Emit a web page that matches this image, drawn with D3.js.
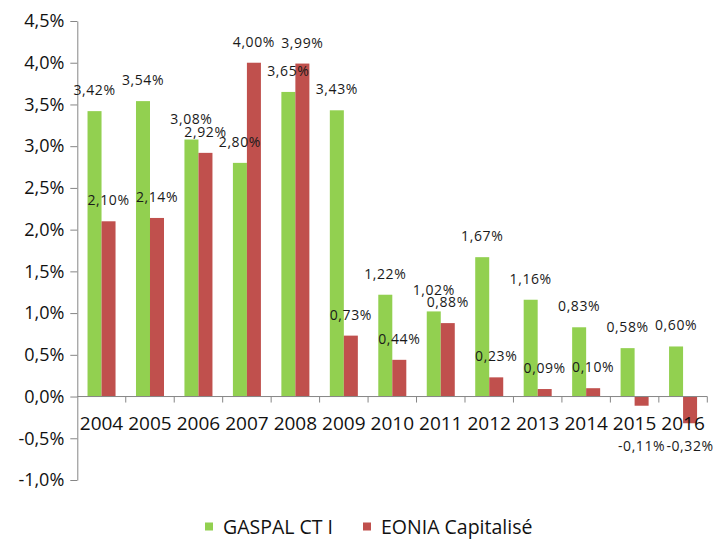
<!DOCTYPE html>
<html>
<head>
<meta charset="utf-8">
<script src="https://cdn.jsdelivr.net/npm/d3@7"></script>
<style>
  body { margin: 0; background: #fff; }
  svg { display: block; font-family: "Open Sans", sans-serif; }
</style>
</head>
<body>
<div id="chart"></div>
<script>
const years = ["2004", "2005", "2006", "2007", "2008", "2009", "2010", "2011", "2012", "2013", "2014", "2015", "2016"];
const gaspal = [3.42, 3.54, 3.08, 2.80, 3.65, 3.43, 1.22, 1.02, 1.67, 1.16, 0.83, 0.58, 0.60];
const eonia = [2.10, 2.14, 2.92, 4.00, 3.99, 0.73, 0.44, 0.88, 0.23, 0.09, 0.10, -0.11, -0.32];
const seriesNames = ["GASPAL CT I", "EONIA Capitalisé"];
const seriesColors = ["#92D050", "#C0504D"];
const yTicks = [-1.0, -0.5, 0, 0.5, 1.0, 1.5, 2.0, 2.5, 3.0, 3.5, 4.0, 4.5];

const W = 714, H = 541;
const svg = d3.select("#chart").append("svg")
    .attr("width", W)
    .attr("height", H);

const x = d3.scaleBand()
    .domain(years)
    .range([77.3, 707.3])
    .padding(0);

const x1 = d3.scaleBand()
    .domain(["g", "r"])
    .range([0, x.bandwidth()])
    .paddingInner(0)
    .paddingOuter(0.73);

const y = d3.scaleLinear()
    .domain([-1.0, 4.5])
    .range([480, 21]);

const fmtTick = v => d3.format(".1f")(v).replace(".", ",").replace("−", "-") + "%";
const fmtLabel = v => d3.format(".2f")(v).replace(".", ",").replace("−", "-") + "%";

// y axis
const yAxis = svg.append("g")
    .attr("transform", `translate(${x.range()[0]},0)`)
    .call(d3.axisLeft(y).tickValues(yTicks).tickFormat(fmtTick).tickSize(7).tickSizeOuter(0));
yAxis.select(".domain").attr("stroke", "#868686");
yAxis.selectAll(".tick line").attr("stroke", "#868686");
yAxis.selectAll(".tick text")
    .attr("x", -13)
    .attr("font-size", 18)
    .attr("fill", "#111")
    .attr("font-family", "Open Sans, sans-serif");

// bars
const flat = [];
years.forEach((yr, i) => {
    flat.push({ year: yr, key: "g", v: gaspal[i] });
    flat.push({ year: yr, key: "r", v: eonia[i] });
});

svg.append("g").selectAll("rect")
    .data(flat)
    .join("rect")
    .attr("x", d => x(d.year) + x1(d.key))
    .attr("y", d => Math.min(y(d.v), y(0)))
    .attr("width", x1.bandwidth())
    .attr("height", d => Math.abs(y(d.v) - y(0)))
    .attr("fill", d => d.key === "g" ? seriesColors[0] : seriesColors[1]);

// x axis at zero
const y0 = y(0);
const xg = svg.append("g");
xg.append("line")
    .attr("x1", x.range()[0]).attr("x2", x.range()[1])
    .attr("y1", y0).attr("y2", y0)
    .attr("stroke", "#868686");
const bounds = years.map(yr => x(yr)).concat([x.range()[1]]);
xg.selectAll("line.tk")
    .data(bounds.slice(1))
    .join("line")
    .attr("class", "tk")
    .attr("x1", d => d).attr("x2", d => d)
    .attr("y1", y0).attr("y2", y0 + 6)
    .attr("stroke", "#868686");
const yearBase = y0 + 33.5;
xg.selectAll("text")
    .data(years)
    .join("text")
    .attr("x", d => x(d) + x.bandwidth() / 2)
    .attr("y", yearBase)
    .attr("text-anchor", "middle")
    .attr("font-size", 19)
    .attr("fill", "#111")
    .text(d => d);

// data labels
svg.append("g").selectAll("text")
    .data(flat)
    .join("text")
    .attr("x", d => x(d.year) + x1(d.key) + x1.bandwidth() / 2)
    .attr("y", d => d.v >= 0 ? y(d.v) - 16 : Math.max(y(d.v) + 28, yearBase + 21))
    .attr("text-anchor", "middle")
    .attr("font-size", 14)
    .attr("letter-spacing", 0.6)
    .attr("fill", "#1a1a1a")
    .text(d => fmtLabel(d.v));

// legend
const legend = svg.append("g");
const legX = [205, 363];
seriesNames.forEach((name, i) => {
    legend.append("rect")
        .attr("x", legX[i]).attr("y", 522.5)
        .attr("width", 8).attr("height", 8)
        .attr("fill", seriesColors[i]);
    legend.append("text")
        .attr("x", legX[i] + 18).attr("y", 533.5)
        .attr("font-size", 19.5)
        .attr("fill", "#111")
        .text(name);
});
</script>
</body>
</html>
